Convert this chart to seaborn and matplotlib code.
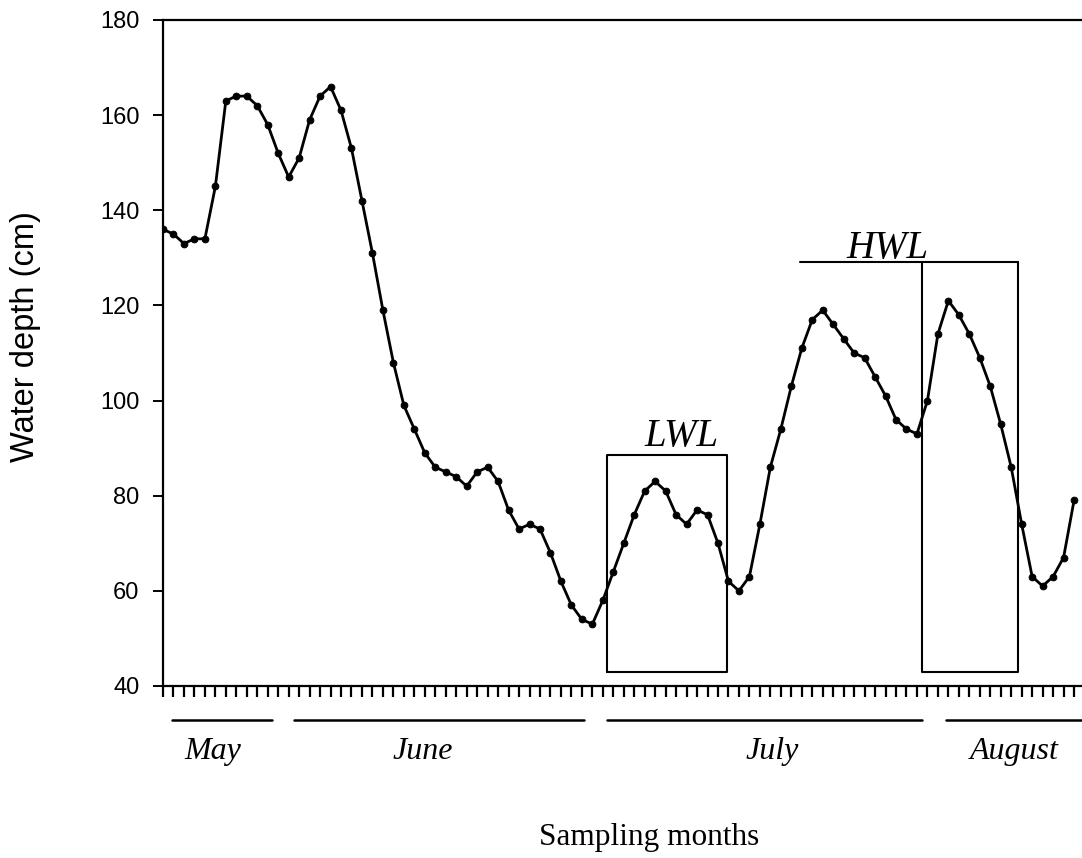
import matplotlib
matplotlib.use("Agg")
import matplotlib.pyplot as plt
import seaborn as sns
import pandas as pd
import numpy as np

# Daily water depth (cm), sampled from May through August
depth = [136, 135, 133, 134, 134, 145, 163, 164, 164, 162,
         158, 152, 147, 151, 159, 164, 166, 161, 153, 142,
         131, 119, 108, 99, 94, 89, 86, 85, 84, 82,
         85, 86, 83, 77, 73, 74, 73, 68, 62, 57,
         54, 53, 58, 64, 70, 76, 81, 83, 81, 76,
         74, 77, 76, 70, 62, 60, 63, 74, 86, 94,
         103, 111, 117, 119, 116, 113, 110, 109, 105, 101,
         96, 94, 93, 100, 114, 121, 118, 114, 109, 103,
         95, 86, 74, 63, 61, 63, 67, 79]
day = list(range(len(depth)))

months = ["May", "June", "July", "August"]
month_start = [0.9, 12.5, 42.4, 74.8]
month_end = [10.4, 40.2, 72.5, 88.0]
month_label_x = [4.8, 24.8, 58.2, 81.3]

y_ticks = [40, 60, 80, 100, 120, 140, 160, 180]

# Low / high water level windows
lwl_box = (42.43, 53.88, 43.0, 88.6)
hwl_box = (72.52, 81.62, 43.0, 129.1)
hwl_bar_start = 60.85

df = pd.DataFrame({"day": day, "depth": depth})

sns.set_style("white")
plt.rcParams["font.family"] = ["Liberation Sans", "DejaVu Sans"]
plt.rcParams["text.color"] = "black"
plt.rcParams["axes.labelcolor"] = "black"
plt.rcParams["xtick.color"] = "black"
plt.rcParams["ytick.color"] = "black"

fig = plt.figure(figsize=(10.82, 8.58), dpi=100)
ax = fig.add_axes([163 / 1082, 1 - 686 / 858, 1 - 163 / 1082, (686 - 20) / 858])

sns.lineplot(data=df, x="day", y="depth", ax=ax, color="black", linewidth=2.0,
             marker="o", markersize=4.8, markeredgecolor="black")

ax.set_xlim(0, 87.76)
ax.set_ylim(40, 180)
ax.set_yticks(y_ticks)
ax.set_yticklabels([str(v) for v in y_ticks], fontsize=17)
ax.set_xticks(np.arange(0, 88, 1))
ax.set_xticklabels([])
ax.tick_params(axis="x", direction="out", length=8, width=1.6, bottom=True)
ax.tick_params(axis="y", direction="out", length=7, width=1.4, left=True, pad=10)

for side in ["left", "bottom", "top"]:
    ax.spines[side].set_color("black")
    ax.spines[side].set_linewidth(1.6)
ax.spines["right"].set_visible(False)

ax.set_xlabel("")
ax.set_ylabel("Water depth (cm)", fontsize=23.5)
ax.yaxis.set_label_coords(-(163 - 41) / (1082 - 163), 0.525, transform=ax.transAxes)

# LWL box
x0, x1, y0, y1 = lwl_box
ax.plot([x0, x1, x1, x0, x0], [y0, y0, y1, y1, y0], color="black", linewidth=1.5)
ax.text(49.5, y1 + 1.8, "LWL", family="Liberation Serif", style="italic",
        fontsize=28, ha="center", va="baseline")

# HWL box with its leading bar
x0, x1, y0, y1 = hwl_box
ax.plot([hwl_bar_start, x1], [y1, y1], color="black", linewidth=1.5)
ax.plot([x0, x0, x1, x1], [y1, y0, y0, y1], color="black", linewidth=1.5)
ax.text(69.2, y1 + 0.8, "HWL", family="Liberation Serif",
        style="italic", fontsize=28, ha="center", va="baseline")

# Month spans below the axis
trans = ax.get_xaxis_transform()
for name, s, e, lx in zip(months, month_start, month_end, month_label_x):
    ax.plot([s, e], [-0.051, -0.051], color="black", linewidth=1.8,
            transform=trans, clip_on=False)
    ax.text(lx, -0.0985, name, transform=trans, family="Liberation Serif",
            style="italic", fontsize=23, ha="center", va="center")

fig.text(539 / 1082, 1 - 838 / 858, "Sampling months", family="Liberation Serif",
         fontsize=22.5, ha="left", va="center")

fig.savefig("out.png", dpi=100)
